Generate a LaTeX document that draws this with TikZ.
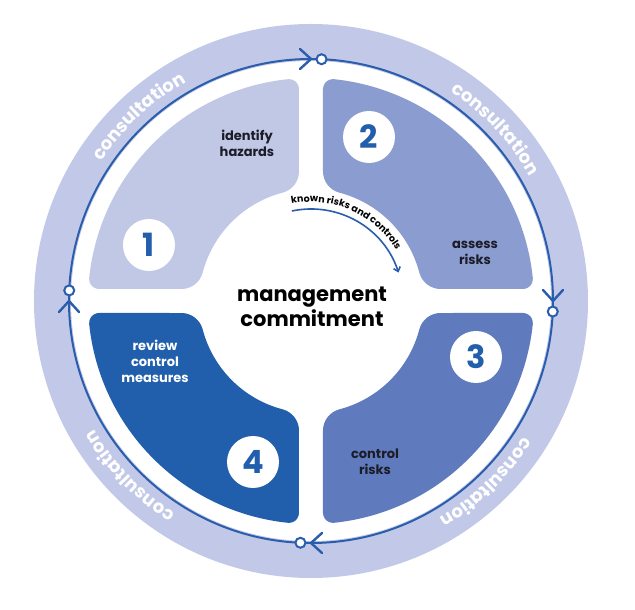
\documentclass[tikz,border=0pt]{standalone}
\usepackage{fontspec}
\setmainfont{Poppins}
\usetikzlibrary{decorations.text,arrows.meta}
\definecolor{band}{HTML}{C2C9E8}
\definecolor{qa}{HTML}{C0C8E6}
\definecolor{qb}{HTML}{8B9DD0}
\definecolor{qc}{HTML}{5F7BBE}
\definecolor{qd}{HTML}{215FAC}
\definecolor{lineblue}{HTML}{2A5EAD}
\definecolor{txt}{HTML}{1C1C28}
\newcommand{\quadpath}{(-12,211.86) -- (-12,129.61)
  arc[start angle=0,end angle=-75.30,radius=22]
  arc[start angle=104.70,end angle=165.30,radius=112]
  arc[start angle=-14.70,end angle=-90,radius=22]
  -- (-211.86,12)
  arc[start angle=270,end angle=174.07,radius=10]
  arc[start angle=174.07,end angle=95.93,radius=223]
  arc[start angle=95.93,end angle=0,radius=10] -- cycle}
\tikzset{
  numc/.style={circle, fill=white, minimum size=52pt, inner sep=0pt,
    text=qd, font=\bfseries\fontsize{32}{32}\selectfont},
  lbl/.style={align=center, text=txt, font=\bfseries\fontsize{13}{16}\selectfont},
  chev/.style={draw=lineblue, line width=2.4pt, line cap=round, line join=miter},
  ring/.style={draw=lineblue, line width=2pt},
  dot/.style={draw=lineblue, line width=2pt, fill=white},
  cons/.style={decorate, decoration={text along path, text align=center,
    text color=white, text={|\bfseries\fontsize{18}{18}\selectfont|consultation}}}
}
\begin{document}
\begin{tikzpicture}[x=1pt,y=1pt]
\useasboundingbox (-311,-309) rectangle (324,301);
\fill[white] (-311,-309) rectangle (324,301);
% outer band
\fill[band] (0,0) circle[radius=277];
\fill[white] (0,0) circle[radius=240];
% consultation labels
\path[cons] (163:252) arc[start angle=163,end angle=103,radius=252];
\path[cons] (73:252) arc[start angle=73,end angle=13,radius=252];
\path[cons] (-16:252) arc[start angle=-16,end angle=-76,radius=252];
\path[cons] (-106:252) arc[start angle=-106,end angle=-166,radius=252];
% cycle line
\draw[ring] (0,0) circle[radius=242];
\foreach \r in {0,-90,-180,-270}{
  \begin{scope}[rotate=\r]
    \draw[chev] (-11,252) -- (0,242) -- (-11,232);
    \draw[dot] (87.5:242) circle[radius=5];
  \end{scope}
}
% quadrants
\fill[qa] \quadpath;
\begin{scope}[xscale=-1] \fill[qb] \quadpath; \end{scope}
\begin{scope}[xscale=-1,yscale=-1] \fill[qc] \quadpath; \end{scope}
\begin{scope}[yscale=-1] \fill[qd] \quadpath; \end{scope}
% numbers
\node[numc] (n1) at (-162,56) {1};
\node[numc] (n2) at (58,164) {2};
\node[numc] (n3) at (165,-56) {3};
\node[numc] (n4) at (-58,-161) {4};
% labels
\node[lbl] (l1) at (-64,158) {identify\\hazards};
\node[lbl] (l2) at (164,48) {assess\\risks};
\node[lbl] (l3) at (64,-161) {control\\risks};
\node[lbl, text=white] (l4) at (-156,-60) {review\\control\\measures};
\node[align=center, text=black, font=\bfseries\fontsize{21}{25}\selectfont] (mc) at (1,-6) {management\\commitment};
% known risks arc
\draw[lineblue, line width=1.6pt, -{Straight Barb[length=4pt,width=7pt]}] (102:92) arc[start angle=102,end angle=18,radius=92];
\path[decorate, decoration={text along path, text align=center, text color=black,
  text={|\bfseries\fontsize{9.5}{10}\selectfont|known risks and controls}}]
  (106:99) arc[start angle=106,end angle=26,radius=99];
\end{tikzpicture}
\end{document}
